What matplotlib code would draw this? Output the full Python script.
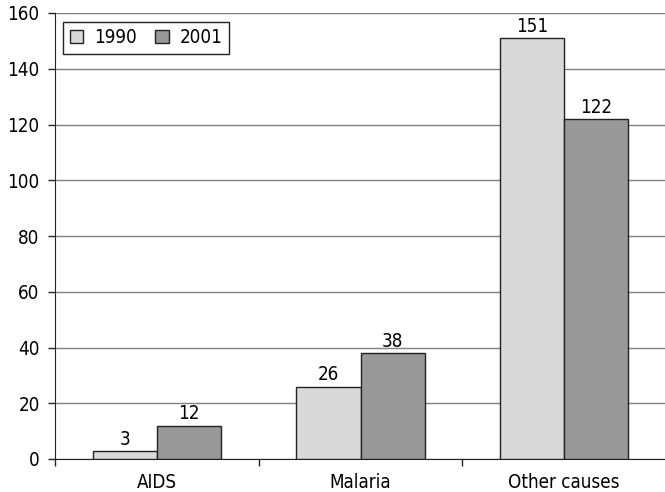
import matplotlib.pyplot as plt
import numpy as np

plt.rcParams["font.family"] = ["DejaVu Sans"]
plt.rcParams["font.stretch"] = "condensed"

categories = ["AIDS", "Malaria", "Other causes"]
years = ["1990", "2001"]
values_1990 = [3, 26, 151]
values_2001 = [12, 38, 122]
colors = ["#d9d9d9", "#999999"]

fig = plt.figure(figsize=(6.65, 4.92), dpi=100)
ax = fig.add_axes([55 / 665, 33 / 492, 611 / 665, 446 / 492])

x = np.arange(len(categories))
width = 0.315
bars_a = ax.bar(x - width / 2, values_1990, width, color=colors[0], edgecolor="#222222",
                linewidth=1.0, label=years[0], zorder=3)
bars_b = ax.bar(x + width / 2, values_2001, width, color=colors[1], edgecolor="#222222",
                linewidth=1.0, label=years[1], zorder=3)

for bars in (bars_a, bars_b):
    for b in bars:
        ax.annotate(f"{b.get_height():g}", (b.get_x() + b.get_width() / 2, b.get_height()),
                    xytext=(0, 1.5), textcoords="offset points", ha="center", va="bottom",
                    fontsize=13.5)

ax.set_xlim(-0.5, len(categories) - 0.5)
ax.set_ylim(0, 160)
ax.set_yticks(np.arange(0, 161, 20))
ax.yaxis.grid(True, color="#808080", linewidth=1.0, zorder=0)

ax.set_xticks(x)
ax.set_xticklabels(categories, fontsize=13.5)
ax.tick_params(axis="x", length=0, pad=10)
ax.set_xticks(np.arange(len(categories) + 1) - 0.5, minor=True)
ax.tick_params(axis="x", which="minor", length=5, width=1, color="#222222")
ax.tick_params(axis="y", length=5, width=1, labelsize=13.5, color="#222222", pad=6)

ax.spines["top"].set_visible(False)
ax.spines["right"].set_visible(False)
ax.spines["left"].set_color("#222222")
ax.spines["bottom"].set_color("#222222")

leg = ax.legend(loc="upper left", bbox_to_anchor=(0.013, 0.98), ncol=2, fontsize=13.5,
                frameon=True, fancybox=False, framealpha=1, edgecolor="#222222",
                handlelength=0.7, handleheight=0.7, columnspacing=1.0, borderpad=0.35,
                handletextpad=0.6, borderaxespad=0)
leg.get_frame().set_linewidth(1.0)

fig.savefig("out.png", dpi=100)
